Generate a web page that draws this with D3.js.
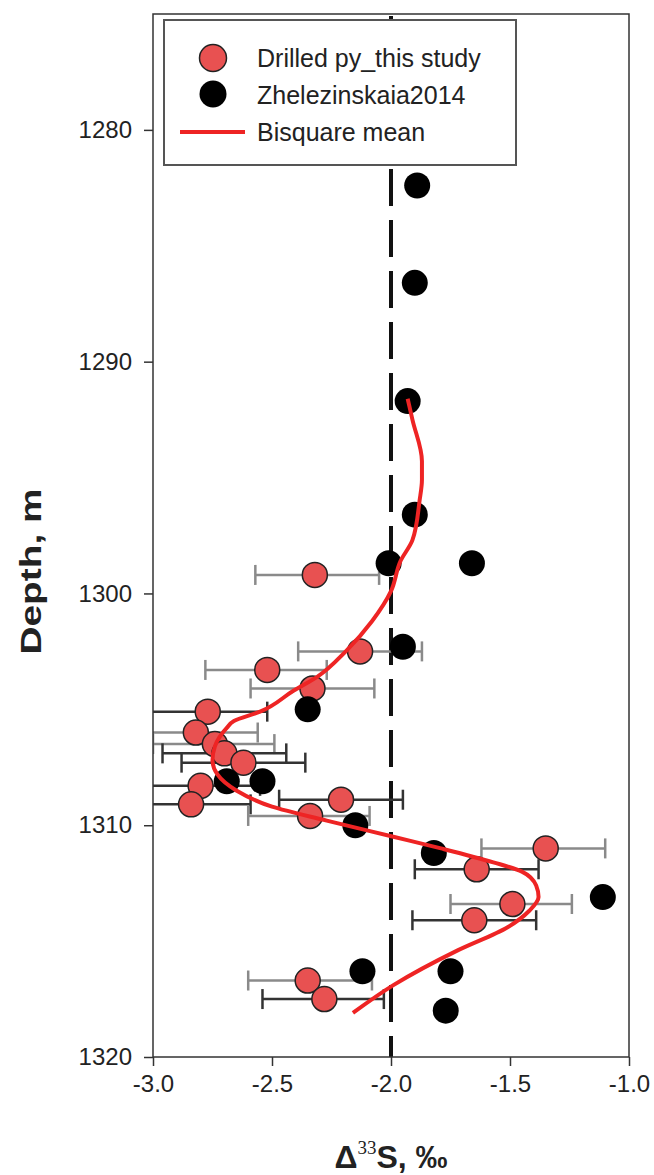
<!DOCTYPE html>
<html>
<head>
<meta charset="utf-8">
<script src="https://cdn.jsdelivr.net/npm/d3@7"></script>
<style>
  body { margin: 0; background: #fff; }
  text { font-family: "Liberation Sans", Arial, sans-serif; fill: #222; }
</style>
</head>
<body>
<div id="chart"></div>
<script>
// drilled pyrite, this study
var redDepth = [1299.2, 1302.5, 1303.3, 1304.1, 1305.1, 1306.0, 1306.5, 1306.9, 1307.3, 1308.3, 1309.1, 1308.9, 1309.6, 1311.0, 1311.9, 1313.4, 1314.1, 1316.7, 1317.5]
var redD33 = [-2.32, -2.13, -2.52, -2.33, -2.77, -2.82, -2.74, -2.70, -2.62, -2.80, -2.84, -2.21, -2.34, -1.35, -1.64, -1.49, -1.65, -2.35, -2.28]
var redLo = [-2.57, -2.39, -2.78, -2.59, -3.03, -3.08, -3.00, -2.96, -2.88, -3.05, -3.10, -2.47, -2.60, -1.62, -1.90, -1.75, -1.91, -2.60, -2.54]
var redHi = [-2.05, -1.87, -2.27, -2.07, -2.52, -2.56, -2.49, -2.44, -2.36, -2.55, -2.59, -1.95, -2.09, -1.10, -1.38, -1.24, -1.39, -2.08, -2.03]

// Zhelezinskaia 2014
var zhDepth = [1282.4, 1286.6, 1291.7, 1296.6, 1298.7, 1298.7, 1302.3, 1305.0, 1308.1, 1308.1, 1310.0, 1311.2, 1313.1, 1316.3, 1316.3, 1318.0]
var zhD33 = [-1.89, -1.90, -1.93, -1.90, -2.01, -1.66, -1.95, -2.35, -2.69, -2.54, -2.15, -1.82, -1.11, -2.12, -1.75, -1.77]

// bisquare mean curve
var fitDepth = [1291.6, 1292.5, 1294.3, 1295.1, 1296.0, 1297.7, 1298.6, 1299.9, 1301.2, 1302.5, 1303.6, 1304.2, 1305.1, 1305.5, 1305.8, 1306.6, 1307.2, 1307.8, 1308.5, 1309.2, 1309.8, 1310.5, 1311.0, 1311.6, 1312.0, 1312.6, 1313.1, 1313.7, 1314.4, 1315.4, 1316.9, 1318.1]
var fitD33 = [-1.93, -1.91, -1.87, -1.87, -1.88, -1.91, -1.96, -2.00, -2.08, -2.19, -2.31, -2.41, -2.55, -2.66, -2.69, -2.74, -2.75, -2.73, -2.65, -2.50, -2.27, -1.99, -1.79, -1.57, -1.45, -1.39, -1.38, -1.42, -1.51, -1.72, -1.99, -2.16]

var xTicks = [-3.0, -2.5, -2.0, -1.5, -1.0]
var yTicks = [1280, 1290, 1300, 1310, 1320]
var refLine = -2.0

// bars drawn in black rather than grey
var darkBars = [4, 7, 8, 9, 10, 11, 14, 16, 18]

var width = 654, height = 1175
var margin = { left: 153, right: 25, top: 14, bottom: 118 }

var svg = d3.select('#chart').append('svg')
    .attr('width', width)
    .attr('height', height)

var x = d3.scaleLinear().domain([-3, -1]).range([margin.left, width - margin.right])
var y = d3.scaleLinear().domain([1275, 1320]).range([margin.top, height - margin.bottom])

svg.append('clipPath').attr('id', 'plotClip')
    .append('rect')
    .attr('x', x(-3)).attr('y', y(1275))
    .attr('width', x(-1) - x(-3)).attr('height', y(1320) - y(1275))

var plot = svg.append('g').attr('clip-path', 'url(#plotClip)')

// dashed reference line
plot.append('line')
    .attr('x1', x(refLine)).attr('x2', x(refLine))
    .attr('y1', y(1275)).attr('y2', y(1320))
    .attr('stroke', '#111')
    .attr('stroke-width', 4)
    .attr('stroke-dasharray', '37,14')
    .attr('stroke-dashoffset', -2)

// error bars
var idx = d3.range(redDepth.length)
var bars = plot.append('g').selectAll('g').data(idx).join('g')
    .attr('stroke', i => darkBars.includes(i) ? '#333' : '#8a8a8a')
    .attr('stroke-width', 2.5)
bars.append('line')
    .attr('x1', i => x(redLo[i])).attr('x2', i => x(redHi[i]))
    .attr('y1', i => y(redDepth[i])).attr('y2', i => y(redDepth[i]))
bars.append('line')
    .attr('x1', i => x(redLo[i])).attr('x2', i => x(redLo[i]))
    .attr('y1', i => y(redDepth[i]) - 10).attr('y2', i => y(redDepth[i]) + 10)
bars.append('line')
    .attr('x1', i => x(redHi[i])).attr('x2', i => x(redHi[i]))
    .attr('y1', i => y(redDepth[i]) - 10).attr('y2', i => y(redDepth[i]) + 10)

// red points
plot.append('g').selectAll('circle').data(idx).join('circle')
    .attr('cx', i => x(redD33[i]))
    .attr('cy', i => y(redDepth[i]))
    .attr('r', 12.5)
    .attr('fill', '#e85151')
    .attr('stroke', '#222')
    .attr('stroke-width', 1.5)

// black points
plot.append('g').selectAll('circle').data(d3.range(zhDepth.length)).join('circle')
    .attr('cx', i => x(zhD33[i]))
    .attr('cy', i => y(zhDepth[i]))
    .attr('r', 13)
    .attr('fill', '#000')

// fitted curve
var line = d3.line()
    .x(i => x(fitD33[i]))
    .y(i => y(fitDepth[i]))
    .curve(d3.curveMonotoneY)
plot.append('path')
    .attr('d', line(d3.range(fitDepth.length)))
    .attr('fill', 'none')
    .attr('stroke', '#ee2424')
    .attr('stroke-width', 4)

// frame
svg.append('rect')
    .attr('x', x(-3)).attr('y', y(1275))
    .attr('width', x(-1) - x(-3)).attr('height', y(1320) - y(1275))
    .attr('fill', 'none')
    .attr('stroke', '#333')
    .attr('stroke-width', 1.5)

// axes
var xAxis = svg.append('g')
    .attr('transform', `translate(0,${y(1320)})`)
    .call(d3.axisBottom(x).tickValues(xTicks).tickSize(9).tickPadding(9).tickFormat(d => d.toFixed(1)))
var yAxis = svg.append('g')
    .attr('transform', `translate(${x(-3)},0)`)
    .call(d3.axisLeft(y).tickValues(yTicks).tickSize(9).tickPadding(12).tickFormat(d3.format('d')))
;[xAxis, yAxis].forEach(a => {
    a.select('.domain').remove()
    a.selectAll('line').attr('stroke', '#333').attr('stroke-width', 1.5)
    a.selectAll('text').style('font-size', '24px').attr('fill', '#222')
})

// axis titles
svg.append('text')
    .attr('transform', `translate(41,${(y(1275) + y(1320)) / 2 + 36}) rotate(-90)`)
    .attr('text-anchor', 'middle')
    .attr('textLength', 166)
    .attr('lengthAdjust', 'spacingAndGlyphs')
    .style('font-size', '30px')
    .style('font-weight', 'bold')
    .text('Depth, m')

var xt = svg.append('text')
    .attr('x', x(-2))
    .attr('y', 1168)
    .attr('text-anchor', 'middle')
    .style('font-size', '32px')
    .style('font-weight', 'bold')
xt.append('tspan').text('Δ')
xt.append('tspan').attr('dy', -14).style('font-size', '19px').style('font-weight', 'normal')
    .style('font-family', '"Liberation Serif", serif').text('33')
xt.append('tspan').attr('dy', 14).text('S, ‰')

// legend
var legend = svg.append('g').attr('transform', 'translate(164,20)')
legend.append('rect')
    .attr('width', 352).attr('height', 145)
    .attr('fill', '#fff')
    .attr('stroke', '#555')
    .attr('stroke-width', 2)
var legendItems = ['Drilled py_this study', 'Zhelezinskaia2014', 'Bisquare mean']
legend.append('circle').attr('cx', 49).attr('cy', 38).attr('r', 13.5)
    .attr('fill', '#e85151').attr('stroke', '#222').attr('stroke-width', 1.5)
legend.append('circle').attr('cx', 49).attr('cy', 74).attr('r', 13.5).attr('fill', '#000')
legend.append('line').attr('x1', 16).attr('x2', 81).attr('y1', 112).attr('y2', 112)
    .attr('stroke', '#ee2424').attr('stroke-width', 4)
legend.selectAll('text.item').data(legendItems).join('text')
    .attr('class', 'item')
    .attr('x', 93)
    .attr('y', (d, i) => 38 + i * 37)
    .attr('dy', '0.35em')
    .style('font-size', '25px')
    .text(d => d)
</script>
</body>
</html>
